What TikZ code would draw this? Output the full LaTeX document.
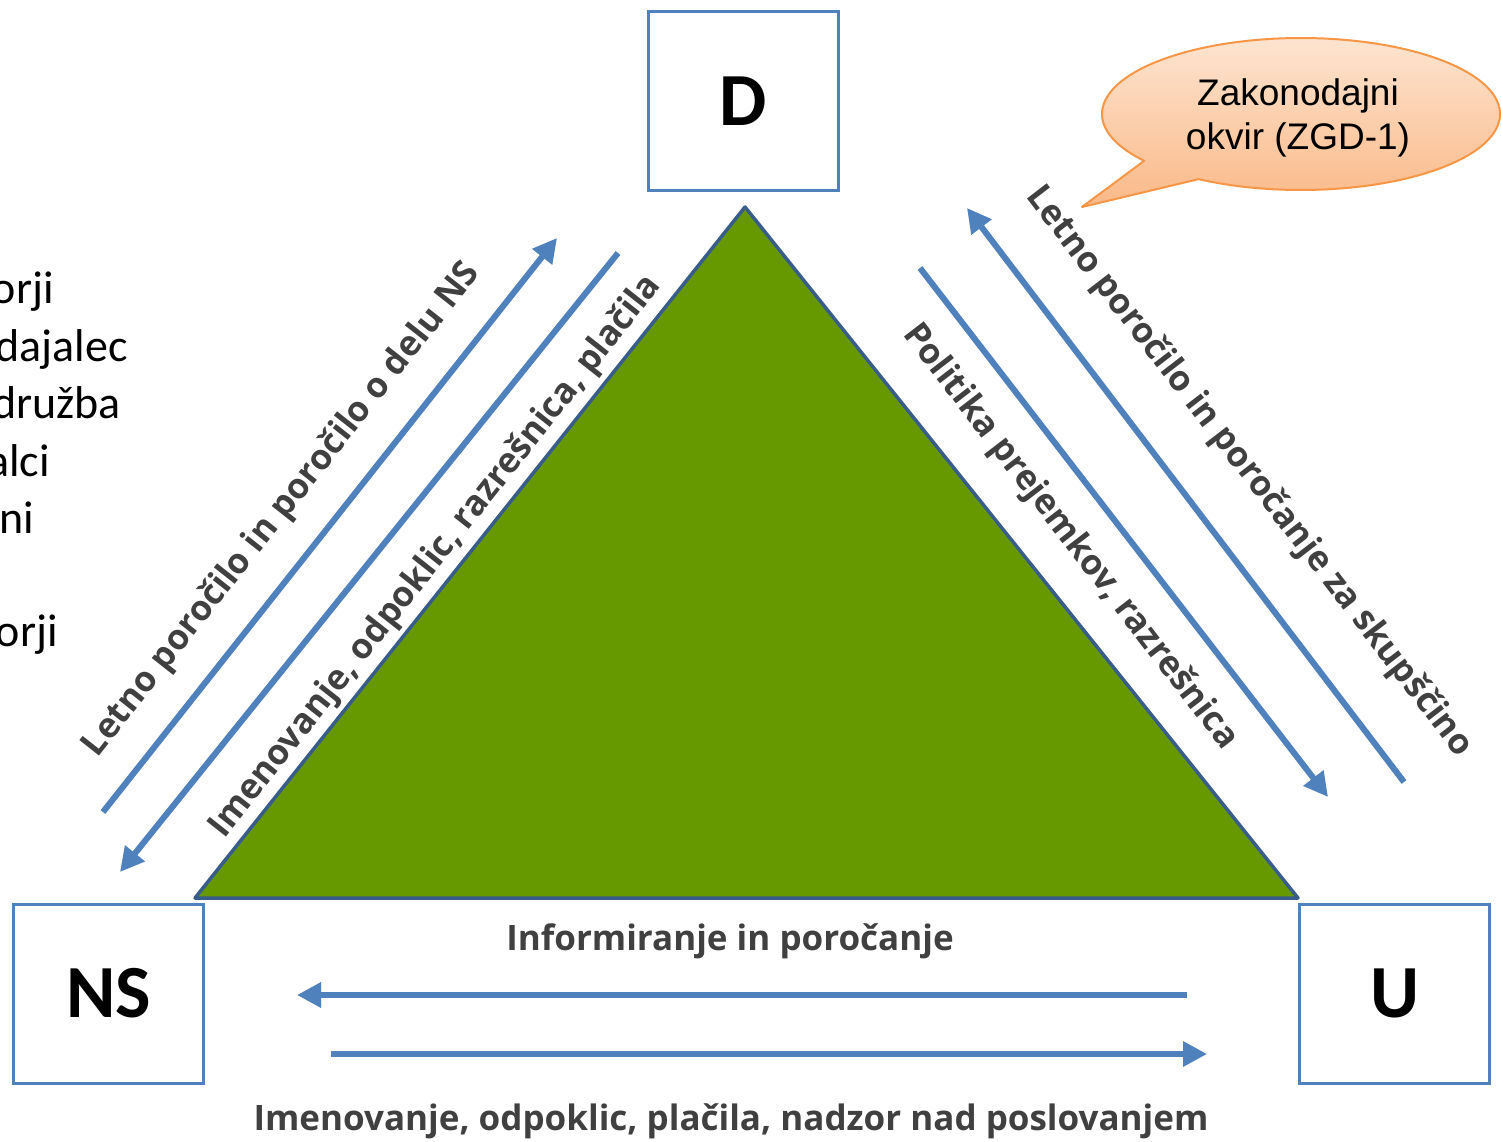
\documentclass[tikz,border=0pt]{standalone}
\usepackage{fontspec}
\setmainfont{Carlito}
\newfontfamily\osans{Open Sans}
\newfontfamily\arialf{Liberation Sans}
\usetikzlibrary{arrows.meta}
\definecolor{boxblue}{HTML}{4F81BD}
\definecolor{triedge}{HTML}{385D8A}
\definecolor{trigreen}{HTML}{669900}
\definecolor{labgray}{HTML}{404040}
\definecolor{calltop}{HTML}{FDE4D0}
\definecolor{callbot}{HTML}{FAB988}
\definecolor{callline}{HTML}{F79646}
\begin{document}
\begin{tikzpicture}[x=1pt,y=-1pt,
  mainbox/.style={draw=boxblue, line width=3pt, fill=white, minimum width=190pt, minimum height=179pt, inner sep=0pt,
    font=\bfseries\fontsize{75}{80}\selectfont},
  flow/.style={draw=boxblue, line width=6pt, -{Triangle[length=24pt,width=24pt]}},
  lab/.style={text=labgray, inner sep=0pt, font=\osans\bfseries\fontsize{35}{40}\selectfont},
  side/.style={anchor=base east, inner sep=0pt, font=\fontsize{46}{50}\selectfont}
]
\useasboundingbox (0,0) rectangle (1501,1141);

% left (cut-off) list
\node[side] (l1) at (54,303) {orji};
\node[side] (l2) at (128,361) {dajalec};
\node[side] (l3) at (121,418) {družba};
\node[side] (l4) at (50,476) {alci};
\node[side] (l5) at (34,533) {ni};
\node[side] (l6) at (58,646) {orji};

% triangle
\coordinate (apex) at (745,207);
\coordinate (bl) at (195,898);
\coordinate (br) at (1298,898);
\filldraw[fill=trigreen, draw=triedge, line width=3.5pt, line join=round] (apex) -- (br) -- (bl) -- cycle;

% boxes
\node[mainbox] (D) at (743.5,101) {D};
\node[mainbox] (NS) at (108.5,993.5) {NS};
\node[mainbox] (U) at (1394.5,993.5) {U};

% callout
\filldraw[draw=callline, line width=2pt, top color=calltop, bottom color=callbot, line join=round]
  (1082,207) -- plot[domain=142:481, samples=160] ({1301+199*cos(\x)},{114+76*sin(\x)}) -- cycle;
\node[align=center, font=\arialf\fontsize{37}{44}\selectfont, inner sep=0pt] (zak) at (1298,118) {Zakonodajni\\okvir (ZGD-1)};

% arrow coordinates
\coordinate (a1s) at (103,812); \coordinate (a1e) at (557,238);
\coordinate (a2s) at (618,253); \coordinate (a2e) at (120,872);
\coordinate (a3s) at (920,268); \coordinate (a3e) at (1328,797);
\coordinate (a4s) at (1404,782); \coordinate (a4e) at (967,208);
\coordinate (a5s) at (1187,995); \coordinate (a5e) at (297,995);
\coordinate (a6s) at (331,1054); \coordinate (a6e) at (1207,1054);

\foreach \s/\e in {a1s/a1e,a2s/a2e,a3s/a3e,a4s/a4e,a5s/a5e,a6s/a6e}{
  \draw[flow, draw=black!40, opacity=0.25, shift={(2,3)}] (\s) -- (\e);
  \draw[flow] (\s) -- (\e);
}

% labels
\node[lab, rotate=51.7] (t1) at (282,510) {Letno poročilo in poročilo o delu NS};
\node[lab, rotate=51.7] (t2) at (436,557) {Imenovanje, odpoklic, razrešnica, plačila};
\node[lab, rotate=-52.4] (t3) at (1070,537) {Politika prejemkov, razrešnica};
\node[lab, rotate=-52.4] (t4) at (1249,472) {Letno poročilo in poročanje za skupščino};
\node[lab] (t5) at (730,941) {Informiranje in poročanje};
\node[lab] (t6) at (731,1121) {Imenovanje, odpoklic, plačila, nadzor nad poslovanjem};
\end{tikzpicture}
\end{document}
